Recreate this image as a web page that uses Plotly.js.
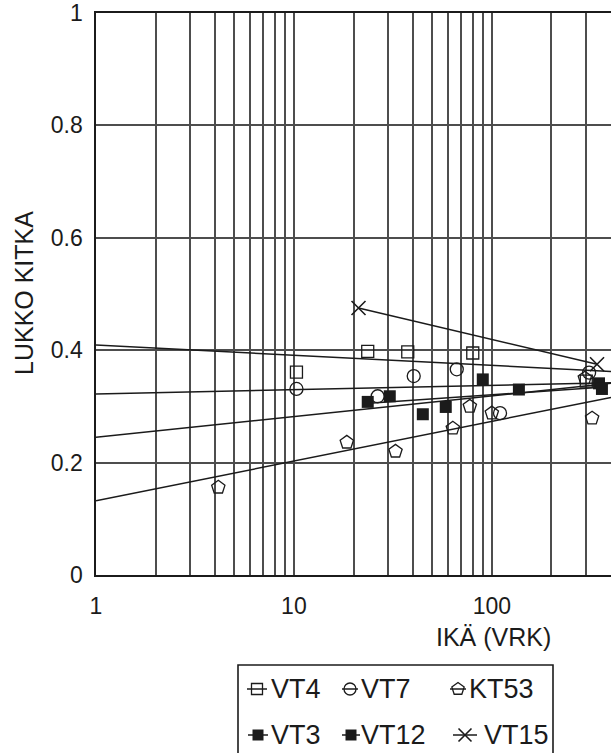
<!DOCTYPE html>
<html>
<head>
<meta charset="utf-8">
<script src="https://cdn.plot.ly/plotly-3.0.1.min.js"></script>
<style>
  html, body { margin: 0; padding: 0; background: #fff; }
  #chart { width: 611px; height: 753px; }
</style>
</head>
<body>
<div id="chart"></div>
<script>
// Lock friction (LUKKO KITKA) against age in days (IKÄ, VRK), log age axis.

// ---- measured points ----
const vt4Age = [10.3, 23.6, 37.6, 80.1, 300];
const vt4Friction = [0.361, 0.398, 0.397, 0.395, 0.345];

const vt7Age = [10.3, 26.5, 40.3, 66.5, 110, 310];
const vt7Friction = [0.331, 0.318, 0.354, 0.366, 0.288, 0.360];

const kt53Age = [4.15, 18.5, 32.6, 63.5, 77.4, 100, 295, 321];
const kt53Friction = [0.156, 0.236, 0.220, 0.261, 0.300, 0.288, 0.350, 0.279];

const vt3Age = [23.6, 30.5, 90, 137, 348];
const vt3Friction = [0.308, 0.318, 0.348, 0.330, 0.341];

const vt12Age = [44.8, 58.5, 360];
const vt12Friction = [0.286, 0.299, 0.331];

const vt15Age = [21.2, 340];
const vt15Friction = [0.475, 0.375];

// ---- fitted trend lines (values at the ends) ----
const fullAgeSpan = [1, 400];
const vt4Trend = [0.409, 0.362];
const vt7Trend = [0.322, 0.342];
const kt53Trend = [0.132, 0.316];
const vt12Trend = [0.245, 0.341];
const vt3TrendAge = [25, 356];
const vt3Trend = [0.306, 0.334];

// ---- axes ----
const xLabelled = [1, 10, 100];
const xDecades = [1, 10, 100];
const yTickVals = [0, 0.2, 0.4, 0.6, 0.8, 1];
const yTickText = ['0', '0.2', '0.4', '0.6', '0.8', '1'];

const seriesNames = ['VT4', 'VT7', 'KT53', 'VT3', 'VT12', 'VT15'];

// grid lines at 1..9 within every decade, labels only on the decades
const xGridVals = [];
xDecades.forEach(d => {
  for (let m = 1; m <= 9; m++) {
    if (m * d <= fullAgeSpan[1]) xGridVals.push(m * d);
  }
});
const xGridText = xGridVals.map(v => (xLabelled.includes(v) ? String(v) : ''));

// ---- figure geometry (pixels) ----
const W = 611, H = 753;
const plotLeft = 96, plotRight = 611, plotTop = 12.5, plotBottom = 575;

const INK = '#1b1b1b';
const GRID = '#4d4d4d';
const FONT = 'Liberation Sans, Arial, Helvetica, sans-serif';

const markerStyle = {
  VT4:  { symbol: 'square-open',   size: 12, color: INK, line: { color: INK, width: 1.3 } },
  VT7:  { symbol: 'circle-open',   size: 13, color: INK, line: { color: INK, width: 1.3 } },
  KT53: { symbol: 'pentagon-open', size: 14, color: INK, line: { color: INK, width: 1.3 } },
  VT3:  { symbol: 'square',        size: 12, color: INK, line: { color: INK, width: 0 } },
  VT12: { symbol: 'square',        size: 12, color: INK, line: { color: INK, width: 0 } },
  VT15: { symbol: 'x-thin-open',   size: 14, color: INK, line: { color: INK, width: 1.6 } }
};

const trendLine = { color: INK, width: 1.5 };

function trend(xs, ys) {
  return { x: xs, y: ys, type: 'scatter', mode: 'lines', line: trendLine,
           xaxis: 'x', yaxis: 'y', showlegend: false, hoverinfo: 'skip' };
}
function points(name, xs, ys, mode) {
  return { x: xs, y: ys, type: 'scatter', mode: mode || 'markers', name: name,
           marker: markerStyle[name], line: trendLine,
           xaxis: 'x', yaxis: 'y', showlegend: false, cliponaxis: false };
}

const traces = [
  trend(fullAgeSpan, vt4Trend),
  trend(fullAgeSpan, vt7Trend),
  trend(fullAgeSpan, kt53Trend),
  trend(fullAgeSpan, vt12Trend),
  trend(vt3TrendAge, vt3Trend),
  points('VT4', vt4Age, vt4Friction),
  points('VT7', vt7Age, vt7Friction),
  points('KT53', kt53Age, kt53Friction),
  points('VT3', vt3Age, vt3Friction),
  points('VT12', vt12Age, vt12Friction),
  points('VT15', vt15Age, vt15Friction, 'lines+markers')
];

// ---- boxed key below the chart, drawn on a pixel-scaled overlay axis ----
const keyBox = { x0: 238, x1: 553, y0: 665, y1: 770 };
const keyRows = [689, 735];
const keySymbolCenter = [[257, 350, 458], [258, 351, 465]];
const keySymbolHalf = [[10, 8, 8], [10, 9, 12]];
const keyTextLeft = [[269, 359, 467], [269, 359, 482]];
const keyFontSize = 27;

const annotations = [];
seriesNames.forEach((name, i) => {
  const r = Math.floor(i / 3), c = i % 3;
  const cx = keySymbolCenter[r][c], hw = keySymbolHalf[r][c], cy = keyRows[r];
  const ms = Object.assign({}, markerStyle[name]);
  ms.size = markerStyle[name].size - 1;
  traces.push({
    x: [cx - hw, cx + hw], y: [cy, cy], type: 'scatter', mode: 'lines',
    line: { color: INK, width: 1.5 },
    xaxis: 'x2', yaxis: 'y2', showlegend: false, hoverinfo: 'skip'
  });
  traces.push({
    x: [cx], y: [cy], type: 'scatter', mode: 'markers', marker: ms,
    xaxis: 'x2', yaxis: 'y2', showlegend: false, hoverinfo: 'skip'
  });
  annotations.push({
    x: keyTextLeft[r][c], y: cy, xref: 'x2', yref: 'y2', text: name,
    xanchor: 'left', yanchor: 'middle', showarrow: false,
    font: { family: FONT, size: keyFontSize, color: INK }
  });
});

// axis titles
annotations.push({
  x: 493, y: 637, xref: 'x2', yref: 'y2', text: 'IKÄ (VRK)',
  xanchor: 'center', yanchor: 'middle', showarrow: false,
  font: { family: FONT, size: 25, color: INK }
});
annotations.push({
  x: 24, y: 293, xref: 'x2', yref: 'y2', text: 'LUKKO KITKA', textangle: -90,
  xanchor: 'center', yanchor: 'middle', showarrow: false,
  font: { family: FONT, size: 25, color: INK }
});

const layout = {
  width: W, height: H,
  margin: { l: 0, r: 0, t: 0, b: 0, pad: 0 },
  paper_bgcolor: '#fff', plot_bgcolor: 'rgba(0,0,0,0)',
  showlegend: false,
  font: { family: FONT, color: INK },
  xaxis: {
    type: 'log', range: [0, Math.log10(fullAgeSpan[1])],
    domain: [plotLeft / W, plotRight / W], anchor: 'y',
    tickmode: 'array', tickvals: xGridVals, ticktext: xGridText,
    ticks: '', ticklabelstandoff: 10,
    tickfont: { family: FONT, size: 23, color: INK },
    showgrid: true, gridcolor: GRID, gridwidth: 2,
    showline: true, mirror: true, linecolor: INK, linewidth: 1.6,
    zeroline: false, automargin: false, fixedrange: true
  },
  yaxis: {
    range: [0, 1.0008], domain: [(H - plotBottom) / H, (H - plotTop) / H], anchor: 'x',
    tickmode: 'array', tickvals: yTickVals, ticktext: yTickText,
    ticks: '', ticklabelstandoff: 7,
    tickfont: { family: FONT, size: 23, color: INK },
    showgrid: true, gridcolor: GRID, gridwidth: 2,
    showline: true, mirror: true, linecolor: INK, linewidth: 1.6,
    zeroline: false, automargin: false, fixedrange: true
  },
  xaxis2: { domain: [0, 1], range: [0, W], anchor: 'y2', visible: false, fixedrange: true },
  yaxis2: { domain: [0, 1], range: [H, 0], anchor: 'x2', visible: false, fixedrange: true },
  shapes: [{
    type: 'rect', xref: 'x2', yref: 'y2',
    x0: keyBox.x0, x1: keyBox.x1, y0: keyBox.y0, y1: keyBox.y1,
    line: { color: INK, width: 1.6 }, fillcolor: 'rgba(0,0,0,0)'
  }],
  annotations: annotations
};

Plotly.newPlot('chart', traces, layout, { staticPlot: true, displayModeBar: false });
</script>
</body>
</html>
